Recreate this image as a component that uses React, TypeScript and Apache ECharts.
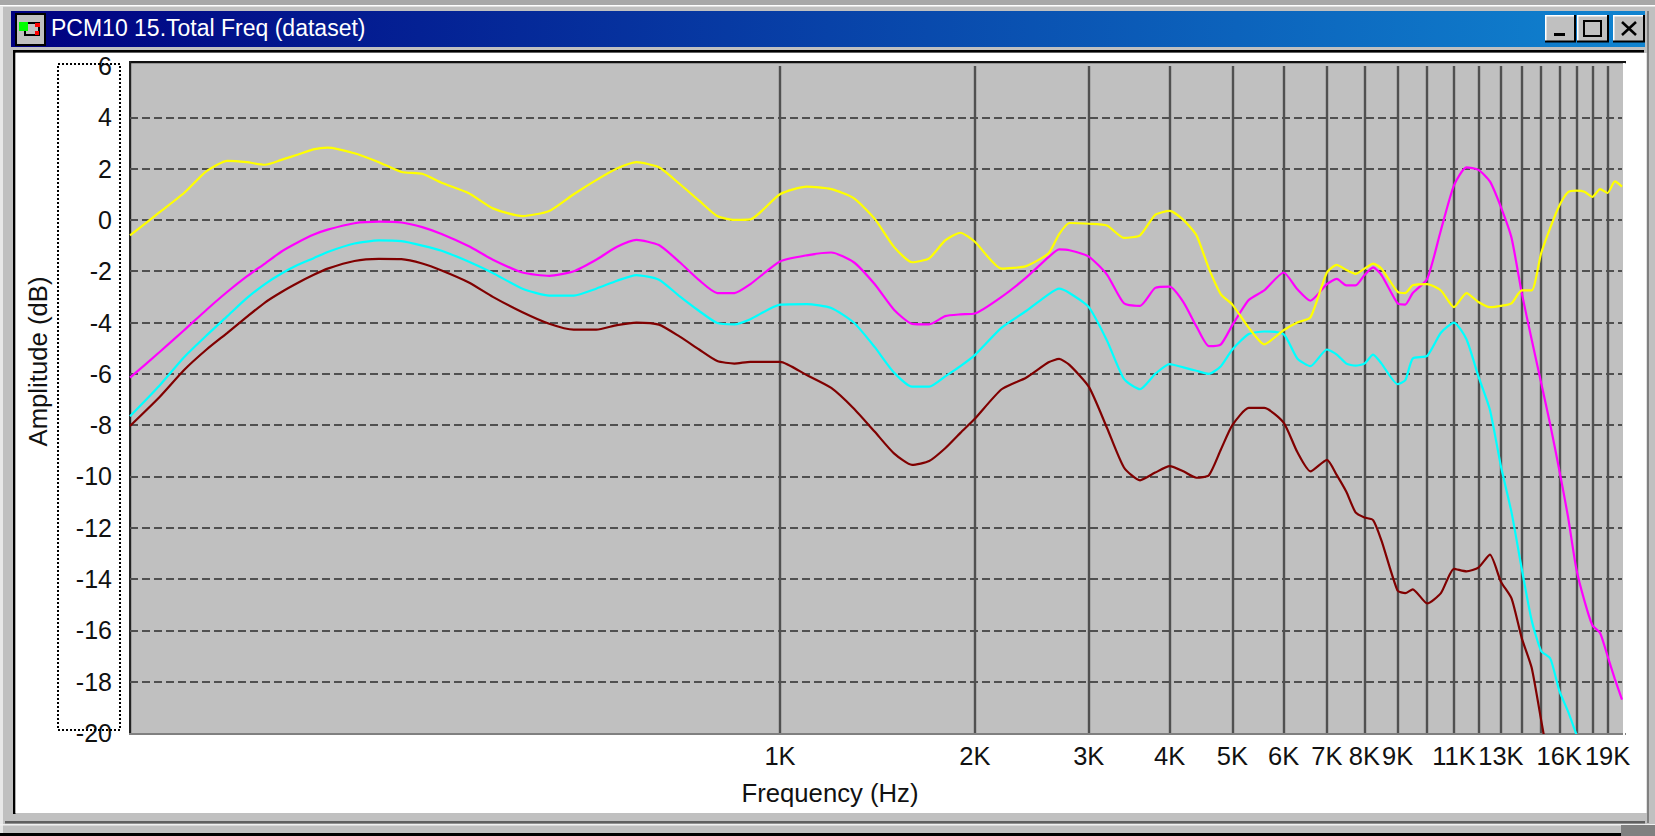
import React, { useEffect, useRef } from "react";
import * as echarts from "echarts";

const W = 1655;
const H = 836;

const windowTitle = "PCM10 15.Total Freq (dataset)";
const xTitle = "Frequency (Hz)";
const yTitle = "Amplitude (dB)";

const gridFrequencies = [
  1000, 2000, 3000, 4000, 5000, 6000, 7000, 8000, 9000, 10000,
  11000, 12000, 13000, 14000, 15000, 16000, 17000, 18000, 19000,
];
const labelFrequencies = [
  1000, 2000, 3000, 4000, 5000, 6000, 7000, 8000, 9000, 11000, 13000, 16000, 19000,
];

const frequencies = [
  99, 110, 120, 130, 140, 150, 160, 170, 180, 190,
  200, 220, 240, 260, 280, 300, 330, 360, 400, 440,
  480, 520, 560, 600, 650, 700, 750, 800, 850, 900,
  1000, 1100, 1200, 1300, 1400, 1500, 1600, 1700, 1800, 1900,
  2000, 2200, 2400, 2600, 2700, 2800, 3000, 3200, 3400, 3600, 3800,
  4000, 4200, 4400, 4600, 4800, 5000, 5300, 5600, 6000, 6300,
  6600, 7000, 7250, 7500, 7750, 8000, 8250, 8500, 9000, 9250, 9500, 10000, 10500, 11000,
  11500, 12000, 12500, 13000, 13500, 14000, 14500, 15000, 15500, 16000,
  16500, 17000, 17500, 18000, 18500, 19000, 19500, 20000,
];

const yellowValues = [
  -0.6, 0.3, 1.05, 1.9, 2.3, 2.25, 2.15, 2.35, 2.55, 2.75,
  2.82, 2.6, 2.25, 1.87, 1.8, 1.45, 1.05, 0.45, 0.15, 0.35,
  1.0, 1.55, 2.0, 2.25, 2.05, 1.4, 0.75, 0.15, 0, 0.02,
  1.0, 1.3, 1.2, 0.85, 0.05, -1.05, -1.65, -1.5, -0.8, -0.5,
  -0.85, -1.9, -1.8, -1.3, -0.55, -0.12, -0.15, -0.22, -0.7, -0.6, 0.2,
  0.35, 0, -0.6, -1.9, -2.9, -3.3, -4.2, -4.85, -4.3, -4.0,
  -3.8, -2.05, -1.75, -1.95, -2.1, -1.9, -1.7, -1.9, -2.8, -2.85, -2.55, -2.5, -2.75, -3.4,
  -2.85, -3.2, -3.4, -3.35, -3.25, -2.75, -2.75, -1.3, -0.3, 0.55,
  1.08, 1.14, 1.1, 0.9, 1.2, 1.05, 1.5, 1.3,
];

const magentaValues = [
  -6.15, -5.15, -4.3, -3.5, -2.8, -2.2, -1.7, -1.22, -0.87, -0.58,
  -0.38, -0.13, -0.07, -0.1, -0.28, -0.55, -1.02, -1.55, -2.05, -2.18,
  -2.0, -1.55, -1.05, -0.78, -0.98, -1.65, -2.35, -2.85, -2.85, -2.5,
  -1.62, -1.38, -1.27, -1.65, -2.5, -3.5, -4.05, -4.07, -3.75, -3.68,
  -3.65, -3.0, -2.25, -1.45, -1.15, -1.18, -1.43, -2.13, -3.25, -3.35, -2.65,
  -2.6, -3.2, -4.15, -4.92, -4.85, -4.1, -3.12, -2.75, -2.05, -2.7,
  -3.15, -2.5, -2.3, -2.55, -2.55, -2.15, -1.85, -2.15, -3.25, -3.3, -2.85, -2.3, -0.4, 1.35,
  2.05, 1.95, 1.5, 0.5, -0.7, -2.85, -4.65, -6.35, -8.0, -9.75,
  -11.55, -13.6, -14.85, -15.8, -16.1, -17, -17.9, -18.7,
];

const cyanValues = [
  -7.65, -6.45, -5.35, -4.5, -3.75, -3.05, -2.5, -2.08, -1.75, -1.5,
  -1.25, -0.92, -0.8, -0.83, -1.0, -1.2, -1.62, -2.07, -2.68, -2.95,
  -2.95, -2.68, -2.37, -2.15, -2.33, -2.98, -3.55, -4.02, -4.07, -3.87,
  -3.3, -3.28, -3.43, -4, -4.95, -5.95, -6.5, -6.5, -6.1, -5.7,
  -5.27, -4.2, -3.55, -2.9, -2.68, -2.85, -3.4, -4.7, -6.2, -6.6, -6.0,
  -5.62, -5.75, -5.88, -6, -5.7, -5.05, -4.45, -4.35, -4.45, -5.4,
  -5.7, -5.05, -5.25, -5.6, -5.68, -5.6, -5.25, -5.6, -6.4, -6.25, -5.4, -5.3, -4.4, -4,
  -4.65, -6.1, -7.4, -9.6, -11.4, -13.6, -15.6, -16.8, -17.1, -18.35,
  -19.15, -20.05,
];

const darkRedValues = [
  -8.03, -6.9, -5.85, -5.05, -4.4, -3.78, -3.22, -2.8, -2.45, -2.15,
  -1.9, -1.6, -1.52, -1.53, -1.7, -1.97, -2.43, -3.0, -3.6, -4.05,
  -4.28, -4.28, -4.1, -4, -4.08, -4.55, -5.05, -5.5, -5.6, -5.53,
  -5.53, -6.05, -6.55, -7.35, -8.25, -9.1, -9.55, -9.4, -8.9, -8.3,
  -7.75, -6.6, -6.15, -5.55, -5.42, -5.65, -6.5, -8.1, -9.65, -10.15, -9.85,
  -9.6, -9.8, -10.05, -9.95, -8.95, -8, -7.33, -7.33, -7.9, -9.05,
  -9.8, -9.35, -9.95, -10.6, -11.4, -11.6, -11.7, -12.5, -14.45, -14.55, -14.4, -14.95, -14.55, -13.6,
  -13.7, -13.55, -13.05, -14.1, -14.75, -16.3, -17.45, -19.5, -21.5,
];

const seriesList = [
  { name: "dark red", color: "#800000", values: darkRedValues },
  { name: "cyan", color: "#00ffff", values: cyanValues },
  { name: "magenta", color: "#ff00ff", values: magentaValues },
  { name: "yellow", color: "#ffff00", values: yellowValues },
];

const FONT = "'Liberation Sans', Arial, sans-serif";

function rect(x: number, y: number, w: number, h: number, fill: any, z = -5) {
  return { type: "rect", z, silent: true, shape: { x, y, width: w, height: h }, style: { fill } };
}
function seg(x1: number, y1: number, x2: number, y2: number, stroke: string, lineWidth = 2, z = 5) {
  return { type: "line", z, silent: true, shape: { x1, y1, x2, y2 }, style: { stroke, lineWidth } };
}

function winButton(x: number, w: number) {
  return [
    rect(x, 15, w, 27, "#c0c0c0", -3),
    rect(x, 15, w, 1.5, "#ffffff", -3),
    rect(x, 15, 1.5, 27, "#ffffff", -3),
    rect(x, 40.5, w + 1, 2, "#000000", -3),
    rect(x + w - 1, 15, 2, 27, "#000000", -3),
  ];
}

function chrome() {
  return [
    rect(0, 0, W, H, "#c0c0c0", -10),
    rect(0, 0, W, 5, "#a8a8a8", -10),
    rect(0, 5, W, 1.5, "#ffffff", -10),
    rect(0, 6, 3, H, "#e8e8e8", -10),
    rect(
      11, 11, 1634, 36,
      new echarts.graphic.LinearGradient(0, 0, 1, 0, [
        { offset: 0, color: "#000080" },
        { offset: 1, color: "#1084d0" },
      ]),
      -9
    ),
    rect(13, 50, 1631, 2.5, "#000000", -9),
    rect(13, 50, 2.5, 764, "#000000", -9),
    rect(15.5, 53, 1631, 760, "#ffffff", -9),
    rect(5, 821, 1640, 2.5, "#606060", -9),
    rect(0, 824, W, 1.5, "#f0f0f0", -9),
    rect(0, 833, 1621, 3, "#000000", -9),
    rect(1621, 825, 34, 11, "#808080", -9),
    rect(1647, 11, 2, 812, "#808080", -9),
    // icon
    rect(15, 13, 31, 33, "#000000", -3),
    rect(17, 15, 27, 29, "#c0c0c0", -3),
    rect(24, 22, 16, 14, "#000000", -2),
    rect(26, 24, 12, 10, "#c0c0c0", -2),
    rect(19, 22, 9, 9, "#00ff00", -1),
    rect(35, 23, 5, 4, "#ff0000", -1),
    rect(35, 31, 4, 4, "#ff0000", -1),
    // buttons
    ...winButton(1545, 30),
    ...winButton(1577, 31),
    ...winButton(1613, 31),
    rect(1554, 33, 11, 3, "#000000", -1),
    { type: "rect", z: -1, silent: true, shape: { x: 1584, y: 21, width: 17, height: 15 }, style: { fill: "none", stroke: "#000000", lineWidth: 2 } },
    seg(1622, 22, 1636, 35, "#000000", 2.5, -1),
    seg(1636, 22, 1622, 35, "#000000", 2.5, -1),
    // plot well and frame
    rect(131, 63, 1492, 670, "#c0c0c0", -4),
    rect(129, 61, 1497, 2.2, "#111111", -3),
    rect(129, 61, 2.2, 674, "#222222", -3),
    rect(129, 733, 1497, 2, "#808080", -3),
    rect(1623, 63, 2, 672, "#ffffff", -3),
    // dotted label box
    {
      type: "rect", z: 6, silent: true,
      shape: { x: 58, y: 64, width: 62, height: 666 },
      style: { fill: "none", stroke: "#000000", lineWidth: 2, lineDash: [2, 2] },
    },
  ];
}

export default function App() {
  const ref = useRef<HTMLDivElement>(null);
  useEffect(() => {
    const chart = echarts.init(ref.current!, null, { renderer: "svg", width: W, height: H });
    chart.setOption({
      animation: false,
      backgroundColor: "#c0c0c0",
      title: {
        text: windowTitle,
        left: 51,
        top: 16,
        padding: 0,
        textStyle: { color: "#ffffff", fontFamily: FONT, fontSize: 23, fontWeight: "normal" },
      },
      grid: { left: 130, right: W - 1622, top: 66, bottom: H - 733, containLabel: false },
      graphic: { elements: chrome() },
      xAxis: {
        type: "log",
        logBase: 10,
        min: 99,
        max: 20000,
        name: xTitle,
        nameLocation: "middle",
        nameGap: 47,
        nameTextStyle: { color: "#111111", fontFamily: FONT, fontSize: 25.7, padding: [0, 92, 0, 0] },
        axisLine: { show: false },
        axisTick: { show: false, customValues: gridFrequencies },
        minorTick: { show: false },
        minorSplitLine: { show: false },
        axisLabel: {
          customValues: labelFrequencies,
          formatter: (v: number) => `${Math.round(v / 1000)}K`,
          color: "#111111",
          fontFamily: FONT,
          fontSize: 25.5,
          margin: 10,
          hideOverlap: false,
        },
        splitLine: {
          show: true,
          showMinLine: true,
          showMaxLine: true,
          lineStyle: { color: "#505050", width: 2.4, type: "solid" },
        },
      },
      yAxis: {
        type: "value",
        min: -20,
        max: 6,
        interval: 2,
        name: yTitle,
        nameLocation: "middle",
        nameGap: 79,
        nameTextStyle: { color: "#111111", fontFamily: FONT, fontSize: 25.7, padding: [0, 0, 0, 76] },
        axisLine: { show: false },
        axisTick: { show: false },
        axisLabel: { color: "#111111", fontFamily: FONT, fontSize: 25, margin: 18, padding: [0, 0, 2, 0] },
        splitLine: {
          show: true,
          showMinLine: false,
          showMaxLine: false,
          lineStyle: { color: "#505050", width: 2, type: [8, 4] },
        },
      },
      series: seriesList.map((s) => ({
        name: s.name,
        type: "line",
        showSymbol: false,
        smooth: 0.2,
        clip: true,
        silent: true,
        lineStyle: { color: s.color, width: 2.2 },
        itemStyle: { color: s.color },
        data: s.values.map((v, i) => [frequencies[i], v]),
      })),
    });
    return () => chart.dispose();
  }, []);
  return <div ref={ref} style={{ position: "fixed", left: 0, top: 0, width: W, height: H }} />;
}
